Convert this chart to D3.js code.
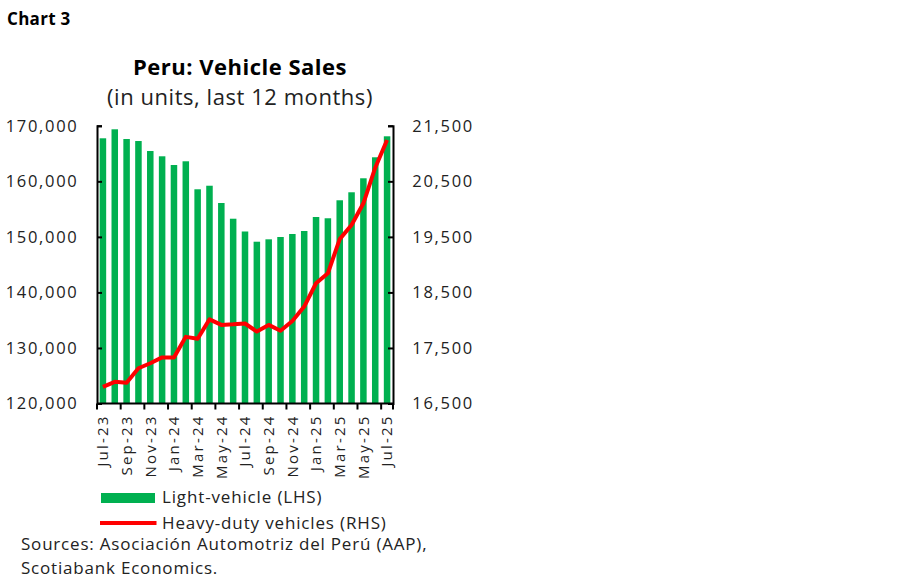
<!DOCTYPE html>
<html><head><meta charset="utf-8">
<script src="https://cdn.jsdelivr.net/npm/d3@7"></script>
<style>
body{margin:0;background:#fff;}
text{font-family:"Open Sans",sans-serif;fill:#222;}
</style></head>
<body><svg id="c" width="900" height="579"></svg>
<script>
const months = ["Jul-23","Aug-23","Sep-23","Oct-23","Nov-23","Dec-23","Jan-24","Feb-24","Mar-24","Apr-24","May-24","Jun-24","Jul-24","Aug-24","Sep-24","Oct-24","Nov-24","Dec-24","Jan-25","Feb-25","Mar-25","Apr-25","May-25","Jun-25","Jul-25"];
const lightVehicle = [167750,169370,167620,167260,165460,164510,162940,163610,158570,159210,156100,153270,150970,149130,149560,149980,150520,151060,153580,153350,156590,158030,160550,164330,168110];
const heavyDuty = [16800,16890,16875,17135,17225,17330,17330,17700,17665,18015,17915,17925,17940,17795,17915,17810,17985,18245,18665,18845,19460,19715,20105,20745,21245];
const leftTicks = [120000,130000,140000,150000,160000,170000];
const rightTicks = [16500,17500,18500,19500,20500,21500];

const svg = d3.select("#c");
const L = 97, R = 393, T = 125.8, B = 403.5;
const x = d3.scaleBand().domain(months).range([L, R]).paddingInner(0.45).paddingOuter(0.225);
const yL = d3.scaleLinear().domain([120000,170000]).range([B, T]);
const yR = d3.scaleLinear().domain([16500,21500]).range([B, T]);
const fmt = d3.format(",");

svg.append("text").attr("x",7).attr("y",25).attr("font-size",17).attr("font-weight",700).attr("letter-spacing",0.3).style("fill","#000").text("Chart 3");
svg.append("text").attr("x",240).attr("y",75).attr("text-anchor","middle").attr("font-size",22).attr("font-weight",700).attr("letter-spacing",0.5).style("fill","#000").text("Peru: Vehicle Sales");
svg.append("text").attr("x",240).attr("y",105).attr("text-anchor","middle").attr("font-size",22).attr("letter-spacing",0.55).text("(in units, last 12 months)");

// bars
svg.append("g").selectAll("rect").data(lightVehicle).join("rect")
  .attr("x",(d,i)=>x(months[i])).attr("width",x.bandwidth())
  .attr("y",d=>yL(d)).attr("height",d=>B-yL(d)).attr("fill","#00b050");

// line
const line = d3.line().x((d,i)=>x(months[i])+x.bandwidth()/2).y(d=>yR(d));
svg.append("path").datum(heavyDuty).attr("d",line).attr("fill","none")
  .attr("stroke","#ff0000").attr("stroke-width",4).attr("stroke-linejoin","round");

// left / right axes
const gl = svg.append("g").attr("transform",`translate(${L},0)`)
  .call(d3.axisLeft(yL).tickValues(leftTicks).tickSizeInner(-5).tickSizeOuter(-5).tickPadding(18.5).tickFormat(fmt));
const gr = svg.append("g").attr("transform",`translate(${R},0)`)
  .call(d3.axisRight(yR).tickValues(rightTicks).tickSizeInner(-5).tickSizeOuter(-5).tickPadding(19.3).tickFormat(fmt));
[gl,gr].forEach(g=>{
  g.select(".domain").attr("stroke","#000").attr("stroke-width",2);
  g.selectAll(".tick line").attr("stroke","#000").attr("stroke-width",2);
  g.selectAll(".tick text").attr("font-size",16.5).attr("font-family","Open Sans").attr("letter-spacing",1.7).style("fill","#222");
});

// bottom axis
const gb = svg.append("g").attr("transform",`translate(0,${B})`);
gb.append("line").attr("x1",L).attr("x2",R).attr("stroke","#000").attr("stroke-width",2);
const step = x.step();
const tickIdx = months.map((m,i)=>i).filter(i=>i%2===0);
gb.selectAll("line.t").data(tickIdx.concat([months.length])).join("line").attr("class","t")
  .attr("x1",i=> i<months.length ? x(months[i]) - step*x.paddingInner()/2 : R)
  .attr("x2",i=> i<months.length ? x(months[i]) - step*x.paddingInner()/2 : R)
  .attr("y1",0).attr("y2",6).attr("stroke","#000").attr("stroke-width",2);
gb.selectAll("text").data(tickIdx).join("text")
  .attr("transform",i=>`translate(${x(months[i])+x.bandwidth()/2+5.4},11) rotate(-90)`)
  .attr("text-anchor","end").attr("font-size",15).attr("letter-spacing",2.2).text(i=>months[i]);

// legend
svg.append("rect").attr("x",101).attr("y",493).attr("width",54).attr("height",10).attr("fill","#00b050");
svg.append("text").attr("x",162).attr("y",502.5).attr("font-size",17).attr("letter-spacing",0.85).text("Light-vehicle (LHS)");
svg.append("line").attr("x1",100).attr("x2",156.5).attr("y1",523).attr("y2",523).attr("stroke","#ff0000").attr("stroke-width",4);
svg.append("text").attr("x",162).attr("y",528.5).attr("font-size",17).attr("letter-spacing",0.85).text("Heavy-duty vehicles (RHS)");

svg.append("text").attr("x",21).attr("y",550).attr("font-size",17).attr("letter-spacing",0.8).text("Sources: Asociación Automotriz del Perú (AAP),");
svg.append("text").attr("x",21).attr("y",574).attr("font-size",17).attr("letter-spacing",0.8).text("Scotiabank Economics.");
</script></body></html>
